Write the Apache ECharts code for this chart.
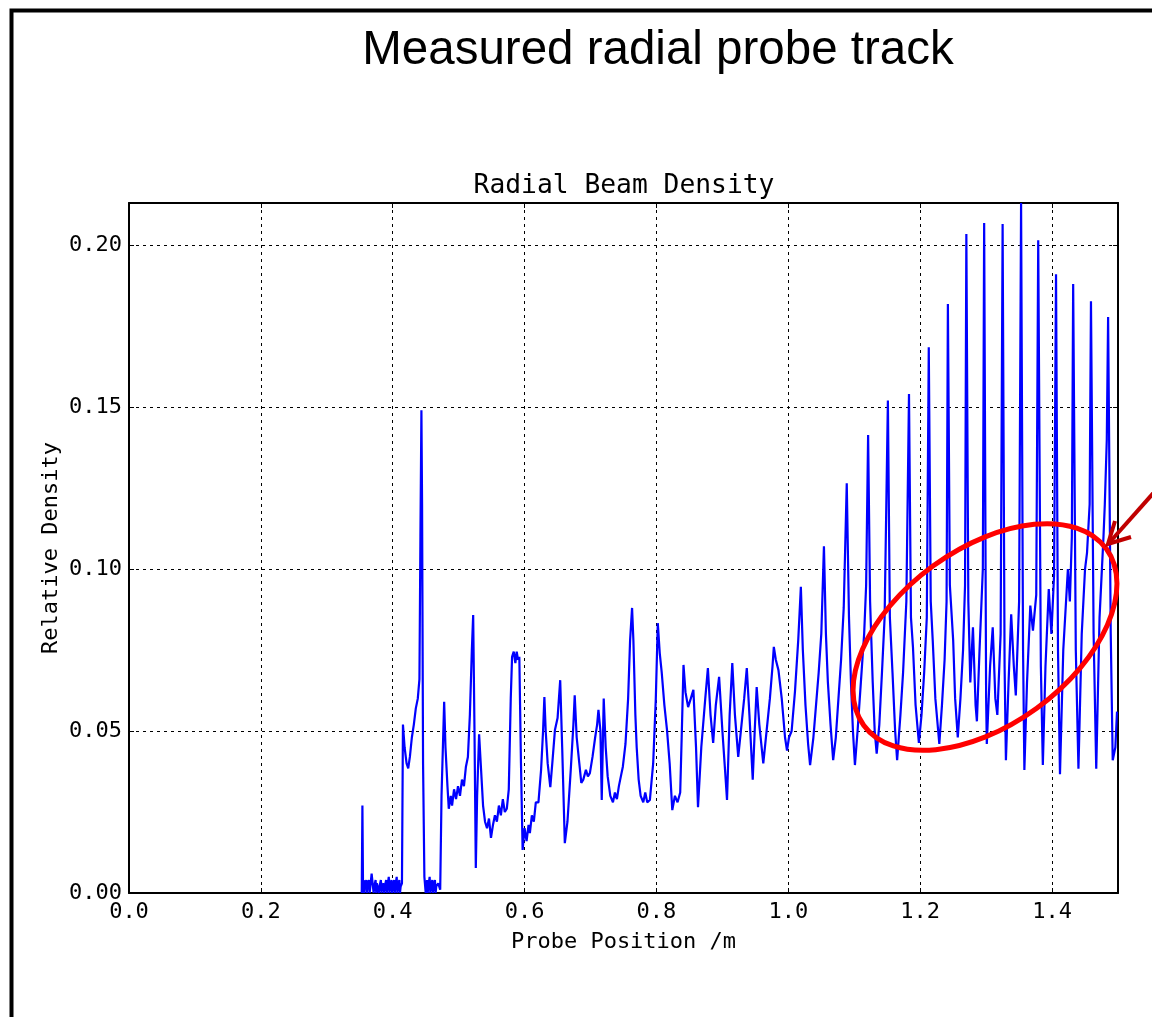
<!DOCTYPE html>
<html>
<head>
<meta charset="utf-8">
<script src="https://cdn.jsdelivr.net/npm/echarts@6/dist/echarts.min.js"></script>
<style>
html,body{margin:0;padding:0;background:#fff;}
#chart{width:1152px;height:1017px;}
</style>
</head>
<body>
<div id="chart"></div>
<script>
// ---- data (probe position in m, relative density) ----
var slideTitle = "Measured radial probe track";
var chartTitle = "Radial Beam Density";
var xAxisName = "Probe Position /m";
var yAxisName = "Relative Density";
var xTicks = [0.0, 0.2, 0.4, 0.6, 0.8, 1.0, 1.2, 1.4];
var yTicks = [0.00, 0.05, 0.10, 0.15, 0.20];

var traceStart = [
  [0.3530,0.000],[0.3540,0.027],[0.3550,0.000],[0.3560,0.004],[0.3570,0.000],[0.3580,0.003],[0.3600,0.004],
  [0.3610,0.000],[0.3620,0.003],[0.3640,0.004],[0.3650,0.000],[0.3660,0.002],[0.3680,0.006],[0.3700,0.006],[0.3710,0.000],[0.3720,0.002],
  [0.3740,0.004],[0.3750,0.000],[0.3760,0.003],[0.3780,0.003],[0.3790,0.000],[0.3800,0.002],[0.3820,0.004],[0.3830,0.000],[0.3840,0.002],
  [0.3860,0.003],[0.3870,0.000],[0.3880,0.002],[0.3900,0.004],[0.3910,0.000],[0.3920,0.002],[0.3940,0.005],[0.3950,0.000],[0.3960,0.002],
  [0.3980,0.004],[0.3990,0.000],[0.4000,0.002],[0.4020,0.004],[0.4030,0.000],[0.4040,0.002],[0.4060,0.005],[0.4070,0.000],[0.4080,0.002],
  [0.4100,0.004],[0.4110,0.000],[0.4120,0.002],[0.4140,0.003],[0.4155,0.052],[0.4180,0.045],[0.4210,0.040],
  [0.4235,0.0385],[0.4260,0.042],[0.4290,0.048],[0.4320,0.052],[0.4350,0.057],[0.4380,0.060],
  [0.4405,0.066],[0.4420,0.110],[0.4435,0.149],[0.4445,0.120],[0.4460,0.040],[0.4480,0.005],
  [0.4500,0.000],[0.4520,0.004],[0.4530,0.000],[0.4540,0.002],[0.4560,0.005],[0.4570,0.000],[0.4580,0.002],[0.4600,0.004],
  [0.4610,0.000],[0.4620,0.002],[0.4640,0.004],[0.4650,0.000],[0.4660,0.002],[0.4690,0.003],[0.4720,0.001],[0.4740,0.030],
  [0.4780,0.059],[0.4800,0.045],[0.4830,0.033],[0.4850,0.026],[0.4880,0.030],[0.4900,0.027],
  [0.4930,0.032],[0.4960,0.029],[0.4990,0.033],[0.5020,0.030],[0.5050,0.035],[0.5080,0.033],
  [0.5110,0.039],[0.5140,0.042],[0.5170,0.055],[0.5200,0.075],[0.5220,0.0858],[0.5240,0.050],
  [0.5260,0.0077],[0.5280,0.030],[0.5310,0.049],[0.5340,0.038],[0.5370,0.027],[0.5400,0.022],
  [0.5430,0.020],[0.5460,0.023],[0.5490,0.017],[0.5520,0.021],[0.5550,0.024],[0.5580,0.022],
  [0.5610,0.027],[0.5640,0.024],[0.5670,0.029],[0.5700,0.025],[0.5730,0.026],[0.5760,0.032],
  [0.5790,0.060],[0.5810,0.0729],[0.5835,0.0745],[0.5860,0.0710],[0.5880,0.0745],[0.5900,0.0720],
  [0.5920,0.0729],[0.5945,0.040],[0.5970,0.0133],[0.6000,0.020],[0.6030,0.016],[0.6060,0.021],
  [0.6080,0.0185],[0.6110,0.024],[0.6140,0.022],[0.6170,0.028],[0.6210,0.028],[0.6250,0.038],
  [0.6280,0.050],[0.6300,0.0605],[0.6320,0.050],[0.6350,0.040],[0.6390,0.0327],[0.6420,0.040],
  [0.6460,0.0503],[0.6500,0.054],[0.6540,0.0657],[0.6570,0.045],[0.6610,0.0154],[0.6650,0.022],
  [0.6700,0.038],[0.6740,0.052],[0.6760,0.061],[0.6790,0.048],[0.6830,0.040],[0.6860,0.034],
  [0.6890,0.035],[0.6930,0.038],[0.6960,0.036],[0.6990,0.037],[0.7030,0.042],[0.7070,0.048],
  [0.7100,0.052],[0.7120,0.0565],[0.7150,0.050],[0.7170,0.0287],[0.7200,0.060],[0.7230,0.045],
  [0.7260,0.036],[0.7300,0.030],[0.7340,0.028],[0.7370,0.031],[0.7400,0.029],[0.7430,0.033],
  [0.7460,0.036],[0.7490,0.039],[0.7530,0.046],[0.7570,0.060],[0.7600,0.078],[0.7630,0.088],
  [0.7650,0.078],[0.7680,0.055],[0.7700,0.045],[0.7730,0.035],[0.7760,0.030],[0.7800,0.028],
  [0.7830,0.031],[0.7860,0.028],[0.7900,0.0287],[0.7950,0.040],[0.7990,0.060],[0.8020,0.0833],
  [0.8050,0.074],[0.8080,0.068],[0.8120,0.058],[0.8160,0.0503],[0.8200,0.040],[0.8240,0.0256],
  [0.8280,0.030],[0.8320,0.028],[0.8360,0.031],[0.8385,0.050],[0.8410,0.0704],[0.8440,0.062],
  [0.8480,0.0574],[0.8520,0.060],[0.8560,0.0627],[0.8600,0.045],[0.8630,0.0265],[0.8680,0.045],
  [0.8740,0.060],[0.8780,0.0694],[0.8820,0.055],[0.8860,0.0463],[0.8900,0.058],[0.8950,0.0667],
  [0.9000,0.050],[0.9040,0.038],[0.9070,0.0287],[0.9110,0.055],[0.9150,0.071],[0.9190,0.055],
  [0.9240,0.042],[0.9280,0.050],[0.9330,0.060],[0.9370,0.0694],[0.9410,0.055],[0.9460,0.035],
  [0.9490,0.050],[0.9520,0.0636],[0.9560,0.052],[0.9620,0.040],[0.9670,0.050],[0.9720,0.060],
  [0.9760,0.070],[0.9780,0.076],[0.9810,0.072],[0.9850,0.0688],[0.9900,0.060],[0.9950,0.048],
  [0.9980,0.044],[1.0010,0.048],[1.0050,0.050],[1.0100,0.062],[1.0150,0.078],[1.0190,0.0945],
  [1.0220,0.075],[1.0260,0.058],[1.0300,0.046]
];

var traceRipple = [
  [1.0330,0.0395],[1.0380,0.048],[1.0420,0.058],[1.0460,0.068],[1.0500,0.080],[1.0540,0.107],
  [1.0570,0.080],[1.0600,0.065],[1.0640,0.052],[1.0680,0.041],[1.0720,0.048],[1.0760,0.060],
  [1.0800,0.072],[1.0840,0.088],[1.0886,0.1265],[1.0920,0.085],[1.0950,0.065],[1.0980,0.050],
  [1.1010,0.0395],[1.1050,0.050],[1.1100,0.065],[1.1150,0.080],[1.1180,0.095],[1.1210,0.1414],
  [1.1240,0.090],[1.1280,0.065],[1.1310,0.050],[1.1340,0.043],[1.1380,0.052],[1.1420,0.068],
  [1.1460,0.085],[1.1510,0.152],[1.1540,0.085],[1.1580,0.068],[1.1620,0.050],[1.1650,0.041],
  [1.1700,0.055],[1.1740,0.068],[1.1790,0.090],[1.1830,0.154],[1.1860,0.085],[1.1890,0.076],
  [1.1930,0.058],[1.1980,0.0463],[1.2020,0.055],[1.2060,0.068],[1.2100,0.085],[1.2130,0.1685],
  [1.2160,0.090],[1.2190,0.078],[1.2230,0.060],[1.2290,0.046],[1.2330,0.058],[1.2370,0.072],
  [1.2400,0.090],[1.2420,0.1818],[1.2450,0.095],[1.2500,0.078],[1.2530,0.060],[1.2570,0.048],
  [1.2610,0.060],[1.2650,0.075],[1.2680,0.095],[1.2700,0.2034],[1.2730,0.090],[1.2760,0.065],
  [1.2800,0.082],[1.2840,0.058],[1.2860,0.053],[1.2900,0.075],[1.2950,0.100],[1.2970,0.2068],
  [1.3000,0.060],[1.3010,0.046],[1.3060,0.070],[1.3100,0.082],[1.3140,0.060],[1.3170,0.055],
  [1.3220,0.080],[1.3250,0.2065],[1.3280,0.070],[1.3300,0.041],[1.3340,0.065],[1.3380,0.086],
  [1.3420,0.070],[1.3450,0.061],[1.3500,0.090],[1.3530,0.213],[1.3560,0.075],[1.3580,0.038],
  [1.3620,0.065],[1.3670,0.0887],[1.3710,0.081],[1.3760,0.092],[1.3790,0.2015],[1.3830,0.070],
  [1.3860,0.0395],[1.3900,0.070],[1.3950,0.0938],[1.3990,0.080],[1.4030,0.098],[1.4060,0.191],
  [1.4090,0.075],[1.4120,0.0367],[1.4170,0.075],[1.4240,0.100],[1.4270,0.090],[1.4300,0.110],
  [1.4320,0.188],[1.4360,0.075],[1.4400,0.0384],[1.4450,0.080],[1.4500,0.100],[1.4530,0.105],
  [1.4570,0.120],[1.4590,0.1827],[1.4630,0.080],[1.4670,0.0384],[1.4720,0.085],[1.4780,0.110],
  [1.4800,0.120],[1.4830,0.140],[1.4850,0.1778],[1.4890,0.080],[1.4920,0.041],[1.4960,0.045],
  [1.4985,0.056]
];

var trace = traceStart.concat(traceRipple);

var chart = echarts.init(document.getElementById('chart'), null, {renderer: 'canvas'});
var mono = "'DejaVu Sans Mono', monospace";
var gridDash = {color: '#000', width: 1, type: [3, 4]};

function baseAxis(extra) {
  return Object.assign({
    type: 'value',
    axisLine: {show: true, onZero: false, lineStyle: {color: '#000', width: 2}},
    axisTick: {show: true, inside: true, length: 5, lineStyle: {color: '#000', width: 1}},
    splitLine: {show: false}
  }, extra);
}

var option = {
  backgroundColor: '#ffffff',
  animation: false,
  title: [
    {text: slideTitle, left: 653, top: 22, textAlign: 'center',
     textStyle: {fontFamily: "'Liberation Sans', Arial, sans-serif", fontSize: 47.5, fontWeight: 'normal', color: '#000'}},
    {text: chartTitle, left: 619, top: 168, textAlign: 'center',
     textStyle: {fontFamily: mono, fontSize: 26.3, fontWeight: 'normal', color: '#000'}}
  ],
  grid: {left: 129, right: 34, top: 203, bottom: 124, containLabel: false},
  xAxis: [
    baseAxis({position: 'bottom', min: 0, max: 1.5, interval: 0.2,
      name: xAxisName, nameLocation: 'middle', nameGap: 38, nameMoveOverlap: false,
      nameTextStyle: {fontFamily: mono, fontSize: 22, color: '#000'},
      axisLabel: {show: true, margin: 8, showMaxLabel: false, fontFamily: mono, fontSize: 22, color: '#000',
        formatter: function (v) { return xTicks.indexOf(Math.round(v * 10) / 10) >= 0 ? v.toFixed(1) : ''; }},
      splitLine: {show: true, lineStyle: gridDash}}),
    baseAxis({position: 'top', min: 0, max: 1.5, interval: 0.2, axisLabel: {show: false}})
  ],
  yAxis: [
    baseAxis({position: 'left', min: 0, max: 0.213, interval: 0.05,
      name: yAxisName, nameLocation: 'middle', nameGap: 67, nameMoveOverlap: false,
      nameTextStyle: {fontFamily: mono, fontSize: 22, color: '#000'},
      axisLabel: {show: true, margin: 7, showMaxLabel: false, fontFamily: mono, fontSize: 22, color: '#000',
        formatter: function (v) { return yTicks.indexOf(Math.round(v * 100) / 100) >= 0 ? v.toFixed(2) : ''; }},
      splitLine: {show: true, lineStyle: gridDash}}),
    baseAxis({position: 'right', min: 0, max: 0.213, interval: 0.05, axisLabel: {show: false}})
  ],
  series: [{
    type: 'line',
    xAxisIndex: 0,
    yAxisIndex: 0,
    data: trace,
    showSymbol: false,
    symbol: 'none',
    clip: true,
    lineStyle: {color: '#0000ff', width: 2.2},
    z: 3
  }],
  graphic: [
    {type: 'rect', left: 9, top: 8, z: 100,
     shape: {x: 0, y: 0, width: 1300, height: 1200},
     style: {fill: null, stroke: '#000', lineWidth: 4}},
    {type: 'ellipse', x: 985, y: 637, rotation: 36 * Math.PI / 180, z: 101,
     shape: {cx: 0, cy: 0, rx: 150, ry: 88},
     style: {fill: null, stroke: '#ff0000', lineWidth: 5}},
    {type: 'polyline', z: 102,
     shape: {points: [[1165, 480], [1109, 543]]},
     style: {stroke: '#c00000', lineWidth: 4, fill: null}},
    {type: 'polyline', z: 102,
     shape: {points: [[1115, 521], [1108, 544], [1131, 537]]},
     style: {stroke: '#c00000', lineWidth: 4, fill: null, lineJoin: 'miter'}}
  ]
};
chart.setOption(option);
</script>
</body>
</html>
